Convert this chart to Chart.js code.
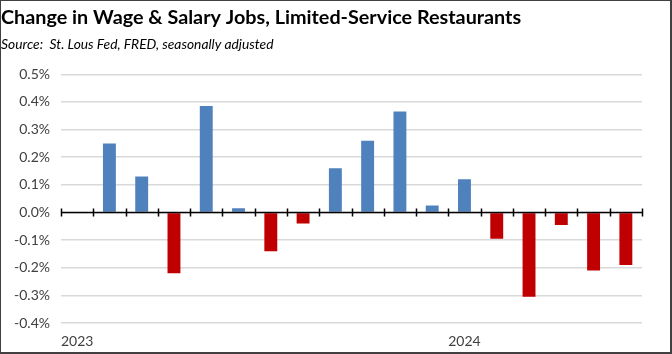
<!DOCTYPE html>
<html>
<head>
<meta charset="utf-8">
<script src="https://cdn.jsdelivr.net/npm/chart.js@4.4.1/dist/chart.umd.min.js"></script>
<style>
    html, body { margin: 0; padding: 0; background: #fff; }
    .chart-box {
        position: absolute;
        left: 0; top: 0;
        width: 672px; height: 354px;
        box-sizing: border-box;
        border: 1px solid #404040;
        border-right-width: 2px;
        border-bottom-width: 2px;
        background: #fff;
    }
    .chart-box canvas { display: block; }
</style>
</head>
<body>
<div class="chart-box">
    <canvas id="jobsChart" width="669" height="351"></canvas>
</div>
<script>
// Months, Jan 2023 .. Jun 2024
const months = [
    "Jan 2023", "Feb 2023", "Mar 2023", "Apr 2023", "May 2023", "Jun 2023",
    "Jul 2023", "Aug 2023", "Sep 2023", "Oct 2023", "Nov 2023", "Dec 2023",
    "Jan 2024", "Feb 2024", "Mar 2024", "Apr 2024", "May 2024", "Jun 2024",
];

// Monthly change in jobs, percent
const jobChange = [
    null, 0.25, 0.13, -0.22, 0.385, 0.015, -0.14, -0.04, 0.16,
    0.26, 0.365, 0.025, 0.12, -0.095, -0.305, -0.045, -0.21, -0.19,
];

// Only the year shows under the axis
const xTickLabels = [
    "2023", "", "", "", "", "", "", "", "", "", "", "",
    "2024", "", "", "", "", "",
];

const yTicks = [-0.4, -0.3, -0.2, -0.1, 0.0, 0.1, 0.2, 0.3, 0.4, 0.5];

const BLUE = "#4F81BD";
const RED = "#C00000";
const FONT = "Lato, 'Open Sans', sans-serif";

/**
 * Draws the black zero line with the little category ticks across it
 */
const zeroAxis = {
    id: "zeroAxis",
    afterDatasetsDraw(chart) {
        const ctx = chart.ctx;
        const x = chart.scales.x;
        const y0 = Math.round(chart.scales.y.getPixelForValue(0)) + 0.5;
        ctx.save();
        ctx.strokeStyle = "#000";
        ctx.lineWidth = 1.5;
        ctx.beginPath();
        ctx.moveTo(x.left, y0);
        ctx.lineTo(x.right, y0);
        const step = (x.right - x.left) / months.length;
        for (let i = 0; i <= months.length; i++) {
            const tx = Math.round(x.left + i * step) + 0.5;
            ctx.moveTo(tx, y0 - 4);
            ctx.lineTo(tx, y0 + 4);
        }
        ctx.stroke();
        ctx.restore();
    },
};

function start_chart() {
    const ctx = document.getElementById("jobsChart").getContext("2d");
    new Chart(ctx, {
        type: "bar",
        data: {
            labels: months,
            datasets: [{
                data: jobChange,
                backgroundColor: jobChange.map(v => (v < 0 ? RED : BLUE)),
                borderWidth: 0,
                barPercentage: 0.4,
                categoryPercentage: 1.0,
            }],
        },
        options: {
            responsive: false,
            animation: false,
            layout: { padding: { left: 0, right: 28, top: 0, bottom: 0 } },
            plugins: {
                legend: { display: false },
                tooltip: { enabled: false },
                title: {
                    display: true,
                    align: "start",
                    text: "Change in Wage & Salary Jobs, Limited-Service Restaurants",
                    color: "#000",
                    font: { family: FONT, size: 19.8, weight: "bold" },
                    padding: { top: 5, bottom: 4 },
                },
                subtitle: {
                    display: true,
                    align: "start",
                    text: "Source:  St. Lous Fed, FRED, seasonally adjusted",
                    color: "#000",
                    font: { family: FONT, size: 13.8, style: "italic" },
                    padding: { top: 3, bottom: 21 },
                },
            },
            scales: {
                x: {
                    grid: { display: false, drawTicks: false },
                    border: { display: false },
                    afterFit: scale => { scale.height = 29; },
                    ticks: {
                        autoSkip: false,
                        maxRotation: 0,
                        padding: 10,
                        color: "#404040",
                        font: { family: FONT, size: 14 },
                        callback: (val, i) => xTickLabels[i],
                    },
                },
                y: {
                    min: -0.4,
                    max: 0.5,
                    afterBuildTicks: scale => {
                        scale.ticks = yTicks.map(v => ({ value: v }));
                    },
                    afterFit: scale => { scale.width = 60; },
                    grid: { color: "#D9D9D9", lineWidth: 1.5, drawTicks: false },
                    border: { display: false },
                    ticks: {
                        padding: 11,
                        color: "#404040",
                        font: { family: FONT, size: 14 },
                        callback: v => v.toFixed(1) + "%",
                    },
                },
            },
        },
        plugins: [zeroAxis],
    });
}

document.addEventListener("DOMContentLoaded", start_chart);
</script>
</body>
</html>
